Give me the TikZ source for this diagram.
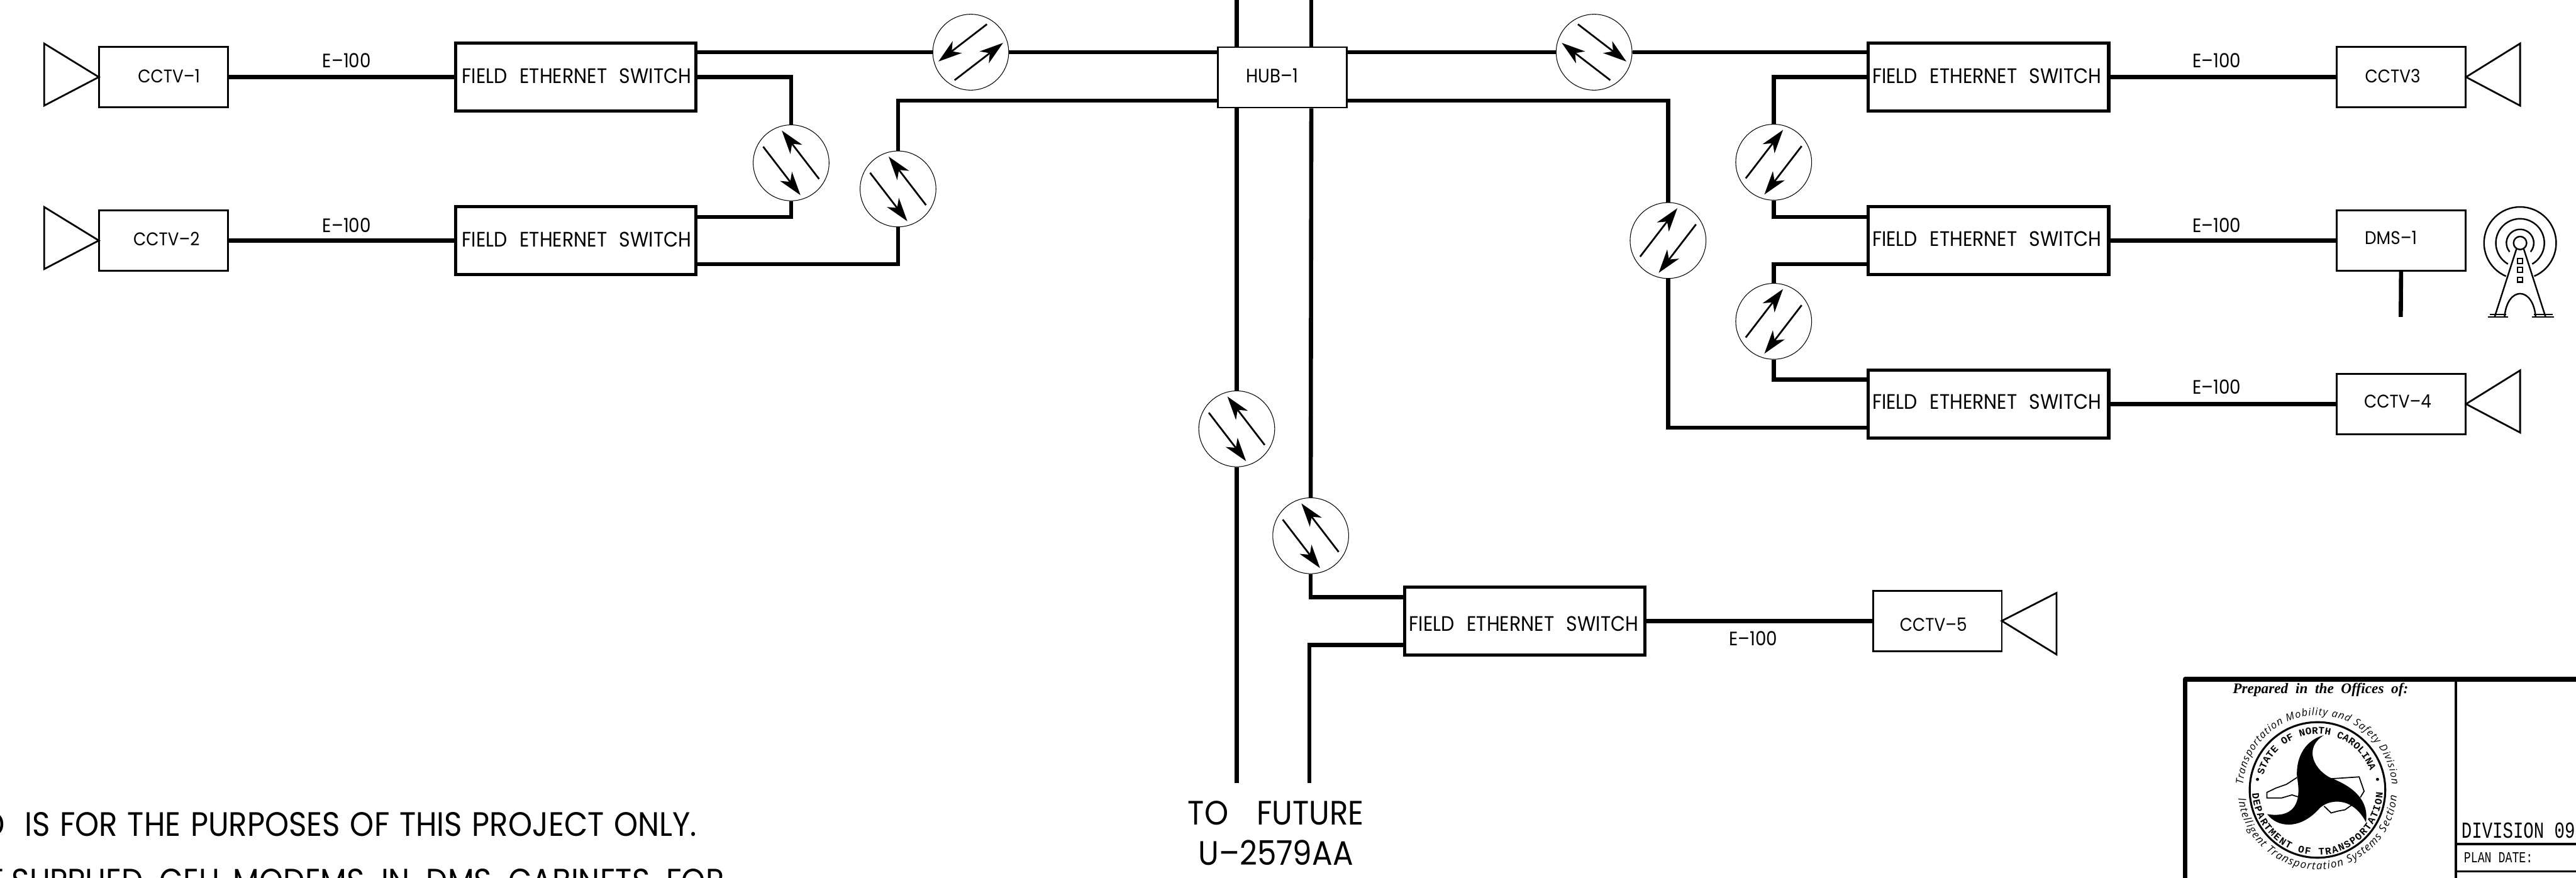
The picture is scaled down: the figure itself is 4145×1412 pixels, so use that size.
\documentclass[tikz,border=0pt]{standalone}
\usepackage{fontspec}
\usepackage{tikz}
\usetikzlibrary{arrows.meta,calc,decorations.text}
\newfontfamily\gothic[FakeStretch=0.9]{Poppins}
\newfontfamily\drafting[FakeStretch=0.75]{Liberation Mono}
\newfontfamily\sealmono{Liberation Mono}
\newfontfamily\seal{Liberation Serif}
\newfontfamily\sealsans{Open Sans}
\newcommand{\fesname}{FIELD\hspace{5.6pt}ETHERNET\hspace{5.6pt}SWITCH}

\tikzset{
  trunk/.style={black,line width=1.9pt},
  thinbox/.style={draw,line width=0.8pt,fill=white,inner sep=0pt},
  switchbox/.style={draw,line width=1.5pt,fill=white,inner sep=0pt,minimum width=3.87cm,minimum height=1.09cm},
  devbox/.style={thinbox,minimum width=2.07cm,minimum height=0.97cm},
  devlabel/.style={font=\gothic\fontsize{8.4}{10}\selectfont,inner sep=0pt},
  cablelabel/.style={font=\gothic\fontsize{8.9}{10}\selectfont,inner sep=0pt},
  feslabel/.style={font=\gothic\fontsize{9.6}{11}\selectfont,inner sep=0pt},
  biglabel/.style={font=\gothic\fontsize{15.5}{18}\selectfont,inner sep=0pt},
  linkcircle/.style={circle,draw,line width=0.3pt,fill=white,inner sep=0pt,minimum size=1.22cm},
  linkarrow/.style={line width=0.8pt,-{Stealth[length=3.8mm,width=2.4mm,inset=1.1mm]}},
  towerline/.style={line width=0.7pt},
  duplex/.pic={
    \coordinate (-a) at (45,26);
    \coordinate (-b) at (-15,-52);
    \coordinate (-c) at (-45,-26);
    \coordinate (-d) at (15,52);
    \draw[linkarrow] (-a) -- (-b);
    \draw[linkarrow] (-c) -- (-d);
  }
}

\begin{document}
\begin{tikzpicture}[x=0.01cm,y=-0.01cm]
  \path[use as bounding box,clip] (0,0) rectangle (4145,1412);

  % Hub and riser
  \node[devbox] (hub) at (2063.5,124.5) {};
  \node[cablelabel] (hublabel) at (2047,122) {HUB–1};
  \coordinate (upa) at (1990,0);
  \coordinate (upb) at (2110,0);
  \coordinate (dna) at (1990,1260);
  \coordinate (dnb) at (2107,1260);
  \node[linkcircle] (lka) at (1990,690) {};
  \node[linkcircle] (lkb) at (2109,862) {};
  \draw[trunk] (upa) -- (upa |- hub.north);
  \draw[trunk] (upb) -- (upb |- hub.north);
  \draw[trunk] (upa |- hub.south) -- (lka.north);
  \draw[trunk] (lka.south) -- (dna);
  \draw[trunk] (upb |- hub.south) -- (lkb.north);

  % Left side
  \node[switchbox] (fesa) at (926.5,124) {};
  \node[switchbox] (fesb) at (926.5,387) {};
  \node[devbox] (cctva) at (263,124) {};
  \node[devbox] (cctvb) at (263,387) {};
  \node[linkcircle] (lkc) at (1273,262) {};
  \node[linkcircle] (lkd) at (1445,304) {};
  \node[linkcircle] (lke) at (1562,84) {};
  \draw[thick] (71,70) -- (159,124) -- (71,170) -- cycle;
  \draw[thick] (71,333) -- (159,387) -- (71,433) -- cycle;
  \node[devlabel] (cctvalabel) at (272,122) {CCTV–1};
  \node[devlabel] (cctvblabel) at (268,384) {CCTV–2};
  \node[feslabel] (fesalabel) at (928,122) {\fesname};
  \node[feslabel] (fesblabel) at (928,385) {\fesname};
  \node[cablelabel] (ea) at (558,97) {E–100};
  \node[cablelabel] (eb) at (558,362) {E–100};
  \coordinate (fesatop) at (fesa.east |- lke);
  \coordinate (hubnw) at (hub.west |- lke);
  \coordinate (hubsw) at (1960,162);
  \coordinate (fesbup) at (1120,349);
  \coordinate (fesblow) at (1120,425);
  \draw[trunk] (cctva.east) -- (fesa.west);
  \draw[trunk] (cctvb.east) -- (fesb.west);
  \draw[trunk] (fesatop) -- (lke.west);
  \draw[trunk] (lke.east) -- (hubnw);
  \draw[trunk] (fesa.east) -| (lkc.north);
  \draw[trunk] (fesbup) -| (lkc.south);
  \draw[trunk] (fesblow) -| (lkd.south);
  \draw[trunk] (lkd.north) |- (hubsw);

  % Right side
  \node[switchbox] (fesc) at (3199.5,124) {};
  \node[switchbox] (fesd) at (3199.5,387) {};
  \node[switchbox] (fese) at (3199.5,650) {};
  \node[devbox] (cctvc) at (3863.5,124) {};
  \node[devbox] (dms) at (3863.5,387) {};
  \node[devbox] (cctvd) at (3863.5,650) {};
  \node[linkcircle] (lkf) at (2565,84) {};
  \node[linkcircle] (lkg) at (2854,261) {};
  \node[linkcircle] (lkh) at (2854,517) {};
  \node[linkcircle] (lki) at (2684,387) {};
  \draw[thick] (4055,70) -- (3968,124) -- (4055,170) -- cycle;
  \draw[thick] (4055,596) -- (3968,650) -- (4055,696) -- cycle;
  \node[devlabel] (cctvclabel) at (3850,122) {CCTV3};
  \node[devlabel] (dmslabel) at (3847,383) {DMS–1};
  \node[devlabel] (cctvdlabel) at (3858,646) {CCTV–4};
  \node[feslabel] (fesclabel) at (3197,122) {\fesname};
  \node[feslabel] (fesdlabel) at (3197,384) {\fesname};
  \node[feslabel] (feselabel) at (3197,646) {\fesname};
  \node[cablelabel] (ec) at (3567,97) {E–100};
  \node[cablelabel] (ed) at (3567,362) {E–100};
  \node[cablelabel] (ee) at (3567,623) {E–100};
  \coordinate (hubne) at (hub.east |- lkf);
  \coordinate (hubse) at (2167,162);
  \coordinate (fesctop) at (fesc.west |- lkf);
  \coordinate (fesdup) at (3006,349);
  \coordinate (fesdlow) at (3006,425);
  \coordinate (feseup) at (3006,611);
  \coordinate (feselow) at (3006,688);
  \coordinate (dmsdrop) at (3863,510);
  \draw[trunk] (hubne) -- (lkf.west);
  \draw[trunk] (lkf.east) -- (fesctop);
  \draw[trunk] (hubse) -| (lki.north);
  \draw[trunk] (lki.south) |- (feselow);
  \draw[trunk] (fesc.west) -| (lkg.north);
  \draw[trunk] (lkg.south) |- (fesdup);
  \draw[trunk] (fesdlow) -| (lkh.north);
  \draw[trunk] (lkh.south) |- (feseup);
  \draw[trunk] (fesc.east) -- (cctvc.west);
  \draw[trunk] (fesd.east) -- (dms.west);
  \draw[trunk] (fese.east) -- (cctvd.west);
  \draw[trunk] (dms.south) -- (dmsdrop);

  % Tower
  \coordinate (tower) at (4055,391);
  \draw[towerline] (tower) circle (10.5);
  \draw[towerline] ($(tower)+(220:0.22cm)$) arc[start angle=220,end angle=-40,radius=0.22cm];
  \draw[towerline] ($(tower)+(240:0.39cm)$) arc[start angle=240,end angle=-60,radius=0.39cm];
  \draw[towerline] ($(tower)+(247:0.58cm)$) arc[start angle=247,end angle=-67,radius=0.58cm];
  \draw[towerline] (4049,401) -- (4014,510) (4061,401) -- (4096,510);
  \draw[towerline] (4030,510) .. controls (4034,460) and (4076,460) .. (4080,510);
  \draw[towerline] (4003,510) -- (4036,510) (4074,510) -- (4110,510);
  \draw[towerline] (4006,506) -- (4033,506) (4077,506) -- (4107,506);
  \draw[towerline] (4051,416) rectangle (4059,424);
  \draw[towerline] (4051,430) rectangle (4059,438);
  \draw[towerline] (4051,446) rectangle (4059,454);

  % Bottom switch
  \node[switchbox] (fesf) at (2453.5,999.5) {};
  \node[devbox] (cctve) at (3117.5,999.5) {};
  \draw[thick] (3309,954) -- (3221,999) -- (3309,1053) -- cycle;
  \node[devlabel] (cctvelabel) at (3111,1005) {CCTV–5};
  \node[feslabel] (fesflabel) at (2452,1004) {\fesname};
  \node[cablelabel] (ef) at (2821,1027) {E–100};
  \coordinate (fesfup) at (2260,961);
  \coordinate (fesflow) at (2260,1038);
  \draw[trunk] (lkb.south) |- (fesfup);
  \draw[trunk] (fesflow) -| (dnb);
  \draw[trunk] (fesf.east) -- (cctve.west);

  % Link symbols
  \pic (sa) at (lka) {duplex};
  \pic (sb) at (lkb) {duplex};
  \pic (sc) at (lkc) {duplex};
  \pic (sd) at (lkd) {duplex};
  \pic[rotate=-90] (se) at (lke) {duplex};
  \pic[rotate=-90,xscale=-1] (sf) at (lkf) {duplex};
  \pic[xscale=-1] (sg) at (lkg) {duplex};
  \pic[xscale=-1] (sh) at (lkh) {duplex};
  \pic[xscale=-1] (si) at (lki) {duplex};

  % Notes
  \node[biglabel] (futurea) at (2053,1308) {TO\hspace{13pt}FUTURE};
  \node[biglabel] (futureb) at (2053,1372) {U–2579AA};
  \node[biglabel,anchor=east] (notea) at (1122,1326) {\spaceskip=4.5pt D\hspace{9pt}IS FOR THE PURPOSES OF THIS PROJECT ONLY.};
  \node[biglabel,anchor=east] (noteb) at (1166,1417) {IT SUPPLIED\ \ CELL MODEMS\ \ IN\ \ DMS\ \ CABINETS\ \ FOR};

  % Title block
  \draw[line width=2.2pt,line join=round] (3516,1500) -- (3516,1093) -- (4200,1093);
  \draw[line width=1.2pt] (3952,1093) -- (3952,1500);
  \draw[line width=1.2pt] (3952,1358) -- (4200,1358);
  \draw[line width=0.8pt] (3952,1402) -- (4200,1402);
  \node[font=\seal\bfseries\itshape\fontsize{6.7}{8}\selectfont,inner sep=0pt] (prepared) at (3734,1110) {Prepared\ \ in\ \ the\ \ Offices\ \ of:};
  \node[font=\drafting\fontsize{10.5}{12}\selectfont,inner sep=0pt,anchor=west] (division) at (3960,1336) {DIVISION 09};
  \node[font=\drafting\fontsize{7}{8}\selectfont,inner sep=0pt,anchor=west] (plandate) at (3964,1380) {PLAN DATE:};

  % Seal
  \coordinate (seal) at (3729,1271);
  \draw[line width=0.9pt] (seal) circle (1.09cm);
  \path[decorate,decoration={text along path,text align=fit to path,
      text={|\sealsans\itshape\fontsize{4.7}{6}\selectfont|Transportation Mobility and Safety Division}}]
    ($(seal)+(176:1.2cm)$) arc[start angle=176,end angle=4,radius=1.2cm];
  \path[decorate,decoration={text along path,text align=fit to path,
      text={|\sealsans\itshape\fontsize{4.9}{6}\selectfont|Intelligent Transportation Systems Section}}]
    ($(seal)+(186:1.28cm)$) arc[start angle=186,end angle=356,radius=1.28cm];
  \path[decorate,decoration={text along path,text align=fit to path,
      text={|\sealmono\bfseries\fontsize{4.6}{5}\selectfont|STATE OF NORTH CAROLINA}}]
    ($(seal)+(165:0.9cm)$) arc[start angle=165,end angle=20,radius=0.9cm];
  \path[decorate,decoration={text along path,text align=fit to path,
      text={|\sealmono\bfseries\fontsize{4.6}{5}\selectfont|DEPARTMENT OF TRANSPORTATION}}]
    ($(seal)+(183:1.05cm)$) arc[start angle=183,end angle=358,radius=1.05cm];
  \fill (seal) ++(170:0.98cm) circle (2.5);
  \fill (seal) ++(10:0.98cm) circle (2.5);
  \draw[line width=0.5pt] (3696,1251) -- (3679,1262) -- (3662,1268) -- (3647.5,1275) -- (3647.5,1284)
    -- (3671,1284) -- (3688,1279) -- (3700.5,1283);
  \draw[line width=0.5pt] (3751,1253) -- (3796,1250) -- (3804,1273) -- (3798,1283);
  \draw[line width=0.5pt] (3739.5,1297) -- (3751,1308) -- (3762,1305) -- (3773,1303) -- (3787.5,1293);
  \fill (3739,1183) .. controls (3712,1190) and (3694,1215) .. (3696,1250)
    .. controls (3702,1280) and (3700,1318) .. (3648,1310)
    .. controls (3665,1332) and (3700,1335) .. (3730,1303)
    .. controls (3745,1285) and (3785,1280) .. (3807,1323)
    .. controls (3812,1290) and (3790,1267) .. (3751,1252)
    .. controls (3725,1240) and (3705,1205) .. (3739,1183) -- cycle;
\end{tikzpicture}
\end{document}
